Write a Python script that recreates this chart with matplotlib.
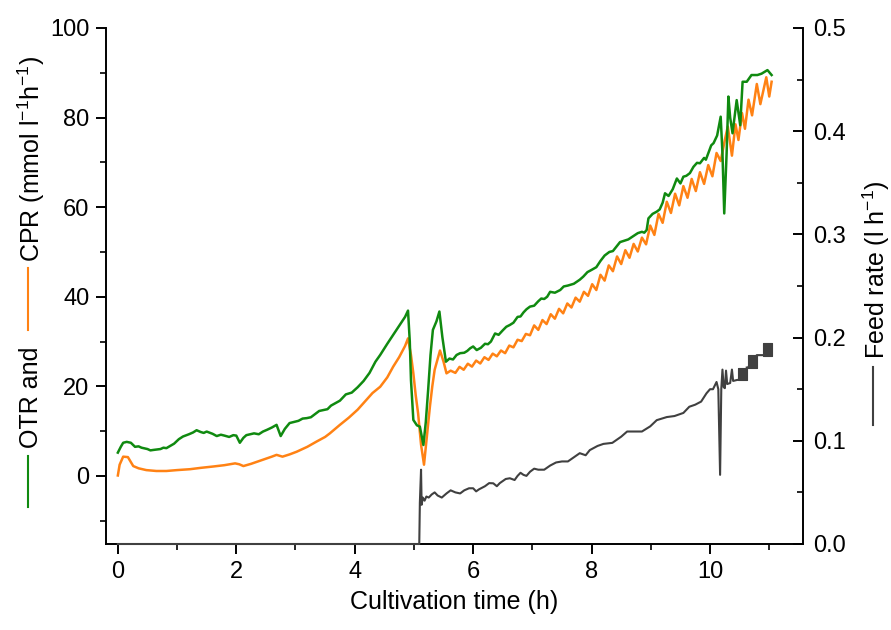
import matplotlib
matplotlib.use("Agg")
import matplotlib.pyplot as plt
import numpy as np
from matplotlib.lines import Line2D
from matplotlib.ticker import MultipleLocator

plt.rcParams['font.family'] = ['Liberation Sans', 'DejaVu Sans']
plt.rcParams['mathtext.fontset'] = 'custom'
plt.rcParams['mathtext.rm'] = 'Liberation Sans'
plt.rcParams['mathtext.it'] = 'Liberation Sans:italic'
plt.rcParams['mathtext.bf'] = 'Liberation Sans:bold'

# ---------------- data ----------------
otr_t = [0.0, 0.05, 0.09, 0.15, 0.22, 0.29, 0.4, 0.5, 0.6, 0.72, 0.82, 0.95, 1.1, 1.2, 1.27,
         1.4, 1.5, 1.6, 1.67, 1.8, 1.95, 2.0, 2.06, 2.12, 2.17, 2.3, 2.45, 2.6, 2.68, 2.72,
         2.75, 2.82, 2.9, 3.05, 3.19, 3.33, 3.47, 3.6, 3.75, 3.85, 3.95, 4.05, 4.15, 4.25,
         4.35, 4.43, 4.55, 4.65, 4.75, 4.85, 4.9, 4.93, 4.95, 4.99, 5.05, 5.1, 5.16, 5.2,
         5.24, 5.28, 5.32, 5.38, 5.43, 5.48, 5.54, 5.6, 5.72, 5.85, 5.95, 6.06, 6.2, 6.3,
         6.37, 6.5, 6.62, 6.75, 6.85, 6.96, 7.1, 7.2, 7.3, 7.47, 7.6, 7.8, 7.86, 8.0, 8.15,
         8.3, 8.42, 8.55, 8.7, 8.85, 8.93, 8.96, 9.1, 9.2, 9.24, 9.3, 9.44, 9.5, 9.6, 9.72,
         9.83, 9.9, 9.97, 10.06, 10.12, 10.18, 10.21, 10.24, 10.28, 10.31, 10.34, 10.38,
         10.45, 10.51, 10.55, 10.62, 10.7, 10.8, 10.87, 10.97, 11.04]
otr = [5.2, 6.5, 7.4, 7.6, 7.4, 6.5, 6.3, 6.0, 5.8, 6.0, 6.2, 7.2, 8.8, 9.3, 9.7,
       9.8, 9.9, 9.4, 8.9, 9.0, 9.1, 9.0, 7.4, 8.5, 9.1, 9.5, 9.9, 10.8, 11.4, 10.0,
       8.9, 10.5, 11.8, 12.3, 12.9, 13.8, 14.7, 15.7, 16.8, 18.2, 18.6, 19.8, 21.2, 23.0,
       25.5, 27.0, 29.5, 31.5, 33.5, 35.5, 36.9, 30.0, 21.4, 12.5, 11.3, 11.0, 6.9, 12.0,
       19.2, 27.0, 32.6, 34.5, 36.7, 31.0, 25.5, 26.2, 27.0, 27.5, 28.5, 28.1, 29.5, 30.0,
       31.8, 32.5, 33.7, 35.5, 36.5, 37.8, 39.0, 39.5, 41.1, 41.5, 42.5, 43.8, 44.5, 46.0, 48.0,
       50.0, 51.2, 52.5, 53.5, 54.5, 54.9, 57.5, 59.0, 61.0, 63.1, 62.5, 66.4, 65.3, 67.0, 69.0,
       69.8, 71.0, 72.0, 74.3, 76.0, 80.2, 72.0, 58.6, 72.0, 84.7, 80.0, 76.5,
       83.9, 78.3, 88.0, 88.0, 89.5, 89.5, 89.8, 90.6, 89.5]
# extra readings of the noisy OTR signal
otr_extra_t = [0.35, 0.55, 0.77, 1.03, 1.33, 1.45, 1.74, 1.88, 2.38, 2.52, 3.12, 3.26, 3.4,
               3.54, 3.68, 5.66, 5.78, 5.90, 6.0, 6.13, 6.25, 6.43, 6.56, 6.68, 6.8, 6.9, 7.03,
               7.15, 7.25, 7.38, 7.53, 7.7, 7.93, 8.08, 8.22, 8.36, 8.48, 8.62, 8.78, 8.89,
               9.03, 9.15, 9.37, 9.55, 9.66, 9.78, 9.93, 10.02]
otr_extra = [6.6, 5.7, 6.3, 8.2, 10.2, 9.6, 9.2, 8.7, 9.3, 10.3, 12.8, 13.1, 14.5,
             14.9, 16.3, 26.0, 27.4, 27.9, 28.9, 28.6, 29.4, 31.5, 33.3, 34.2, 35.6, 37.2, 38.0,
             39.6, 40.0, 40.9, 42.3, 42.9, 45.5, 46.6, 49.2, 50.2, 52.2, 52.8, 54.2, 54.3,
             58.5, 59.5, 64.0, 66.8, 67.6, 69.9, 70.6, 73.8]

cpr_t = [0.0, 0.03, 0.09, 0.17, 0.26, 0.35, 0.48, 0.65, 0.82, 1.0, 1.22, 1.4, 1.61, 1.8,
         1.98, 2.05, 2.12, 2.25, 2.45, 2.6, 2.68, 2.78, 2.9, 3.02, 3.2, 3.36, 3.5, 3.58,
         3.75, 3.9, 4.05, 4.2, 4.3, 4.43, 4.55, 4.65, 4.75, 4.85, 4.9, 4.95, 4.99, 5.03,
         5.07, 5.12, 5.17, 5.22, 5.27, 5.31, 5.35, 5.44, 5.5, 5.55, 5.62,
         5.70, 5.77, 5.84, 5.91, 5.98, 6.05, 6.12, 6.19, 6.26, 6.33, 6.40, 6.47, 6.54, 6.61,
         6.68, 6.75, 6.82, 6.89, 6.96, 7.03, 7.10, 7.17, 7.24, 7.31, 7.38, 7.45, 7.52, 7.59,
         7.66, 7.73, 7.80, 7.87, 7.94, 8.01, 8.08, 8.15, 8.22, 8.29, 8.36, 8.43, 8.50, 8.57,
         8.64, 8.71, 8.78, 8.85, 8.92, 8.99, 9.06, 9.13, 9.20, 9.27, 9.34, 9.41, 9.48, 9.55,
         9.62, 9.69, 9.76, 9.83, 9.90, 9.97, 10.04, 10.11, 10.18,
         10.25, 10.30, 10.37, 10.43, 10.48, 10.54, 10.59, 10.65, 10.71, 10.79, 10.85,
         10.95, 11.0, 11.04]
cpr = [0.1, 2.5, 4.3, 4.2, 2.2, 1.7, 1.3, 1.1, 1.1, 1.3, 1.5, 1.8, 2.1, 2.4,
       2.8, 2.6, 2.2, 2.7, 3.6, 4.3, 4.7, 4.3, 4.8, 5.4, 6.5, 7.7, 8.7, 9.5,
       11.4, 13.0, 14.8, 17.0, 18.5, 19.9, 22.0, 24.4, 26.5, 29.0, 30.7, 27.0, 22.9, 18.0,
       14.0, 7.0, 2.5, 9.0, 15.5, 20.0, 23.7, 28.0, 25.5, 22.9, 23.5,
       23.0, 24.35, 23.7, 25.05, 24.4, 25.75, 25.1, 26.5, 25.9, 27.3, 26.7, 28.0, 27.4, 29.1,
       28.7, 30.4, 30.1, 31.7, 31.4, 33.6, 32.6, 34.8, 33.9, 36.1, 35.1, 37.3, 36.3, 38.5,
       37.6, 39.8, 38.9, 41.1, 40.2, 42.8, 41.5, 44.9, 43.6, 47.0, 45.7, 49.0, 47.3, 50.4,
       48.7, 51.8, 50.1, 53.2, 51.7, 55.9, 53.8, 58.5, 56.5, 61.2, 58.7, 63.0, 60.4, 64.7,
       62.1, 66.3, 63.6, 67.8, 65.2, 69.4, 66.9, 72.1, 70.3,
       75.0, 78.0, 71.5, 78.5, 75.0, 81.0, 77.5, 84.0, 80.5, 87.5, 83.0,
       89.0, 84.7, 88.0]

feed_t = [0.0, 5.09, 5.10, 5.12, 5.13, 5.15, 5.18, 5.21, 5.25, 5.3, 5.4, 5.55, 5.7, 5.85,
          6.0, 6.1, 6.2, 6.34, 6.45, 6.62, 6.75, 6.85, 6.96, 7.1, 7.3, 7.5, 7.7, 7.97, 8.2,
          8.5, 8.75, 8.99, 9.27, 9.55, 9.75, 9.94, 10.05, 10.11, 10.14, 10.17, 10.19, 10.21,
          10.23, 10.25, 10.27, 10.29, 10.34, 10.37, 10.39, 10.46, 10.47]
feed = [0.0, 0.0, 0.040, 0.072, 0.038, 0.045, 0.042, 0.046, 0.045, 0.048, 0.047, 0.049, 0.050, 0.052,
        0.054, 0.053, 0.056, 0.0588, 0.059, 0.0637, 0.066, 0.067, 0.070, 0.072, 0.076, 0.080, 0.084, 0.091, 0.097,
        0.104, 0.109, 0.114, 0.123, 0.127, 0.135, 0.146, 0.150, 0.157, 0.150, 0.067, 0.150, 0.169,
        0.152, 0.151, 0.168, 0.155, 0.156, 0.169, 0.158, 0.159, 0.159]
# extra readings of the noisy feed signal
feed_extra_t = [5.35, 5.47, 5.62, 5.78, 5.93, 6.05, 6.27, 6.4, 6.55, 6.7, 6.8, 6.9, 7.03,
                7.2, 7.4, 7.6, 7.8, 7.9, 8.1, 8.35, 8.6, 8.85, 9.1, 9.4, 9.65, 9.85, 10.0]
feed_extra = [0.050, 0.045, 0.052, 0.049, 0.054, 0.051, 0.059, 0.056, 0.063, 0.062, 0.069, 0.066, 0.073,
              0.072, 0.079, 0.080, 0.088, 0.086, 0.095, 0.098, 0.109, 0.109, 0.120, 0.124, 0.133, 0.138, 0.150]
# end of run: feed pump toggling between two levels (filled blocks) and steps
block_start = [10.47, 10.64, 10.90]
block_end = [10.62, 10.79, 11.04]
block_lo = [0.159, 0.171, 0.182]
block_hi = [0.171, 0.183, 0.195]
step_t = [10.62, 10.64, 10.79, 10.90]
step_f = [0.171, 0.171, 0.183, 0.183]

x_ticks = [0, 2, 4, 6, 8, 10]
y_ticks = [0, 20, 40, 60, 80, 100]
y2_ticks = [0.0, 0.1, 0.2, 0.3, 0.4, 0.5]


def merged(t1, v1, t2, v2):
    t = np.array(t1 + t2)
    v = np.array(v1 + v2)
    o = np.argsort(t, kind='stable')
    return t[o], v[o]


otr_all_t, otr_all = merged(otr_t, otr, otr_extra_t, otr_extra)
feed_all_t, feed_all = merged(feed_t, feed, feed_extra_t, feed_extra)

GREEN = '#108a10'
ORANGE = '#ff8214'
GREY = '#404040'
FS = 17
FL = 18

W, H = 891, 630
fig = plt.figure(figsize=(W / 100, H / 100), dpi=100)
ax = fig.add_axes([106 / W, 1 - 544 / H, (803 - 106) / W, (544 - 28) / H])
ax2 = ax.twinx()

ax.plot(cpr_t, cpr, color=ORANGE, lw=1.8, zorder=2)
ax.plot(otr_all_t, otr_all, color=GREEN, lw=1.8, zorder=3)

ax2.plot(feed_all_t, feed_all, color=GREY, lw=1.5, clip_on=False, zorder=3)
ax2.plot(step_t, step_f, color=GREY, lw=1.5, zorder=3)
for s, e, lo, hi in zip(block_start, block_end, block_lo, block_hi):
    ax2.fill_between([s, e], [lo, lo], [hi, hi], color=GREY, lw=0.8, zorder=3)

ax.set_xlim(-0.2, 11.57)
ax.set_ylim(-15.2, 100)
ax2.set_ylim(0, 0.5)

ax.set_xticks(x_ticks)
ax.set_yticks(y_ticks)
ax2.set_yticks(y2_ticks)
ax2.set_yticklabels([f"{v:.1f}" for v in y2_ticks])
ax.xaxis.set_minor_locator(MultipleLocator(1))
ax.yaxis.set_minor_locator(MultipleLocator(10))
ax2.yaxis.set_minor_locator(MultipleLocator(0.05))

for a in (ax, ax2):
    a.spines['top'].set_visible(False)
    for s in a.spines.values():
        s.set_linewidth(1.4)
ax.tick_params(which='major', length=7, width=1.4, direction='out', labelsize=FS, pad=5)
ax.tick_params(which='minor', length=4, width=1.2, direction='out')
ax2.tick_params(which='major', length=7, width=1.4, direction='in', labelsize=FS, pad=7)
ax2.tick_params(which='minor', length=4, width=1.2, direction='in')
ax2.spines['bottom'].set_visible(False)
ax2.spines['left'].set_visible(False)
ax.spines['right'].set_visible(False)

ax.set_xlabel('Cultivation time (h)', fontsize=FL, labelpad=5)


def fx(px):
    return px / W


def fy(py):
    return 1 - py / H


# left composite y label
fig.add_artist(Line2D([fx(28), fx(28)], [fy(456), fy(507)], color=GREEN, lw=1.5))
fig.text(fx(31), fy(397), 'OTR and', rotation=90, ha='center', va='center', fontsize=FL)
fig.add_artist(Line2D([fx(28), fx(28)], [fy(268), fy(330)], color=ORANGE, lw=1.5))
fig.text(fx(31), fy(159), 'CPR (mmol l$^{-1}$h$^{-1}$)', rotation=90, ha='center',
         va='center', fontsize=FL)

# right composite y label
fig.add_artist(Line2D([fx(873), fx(873)], [fy(367), fy(425)], color=GREY, lw=1.5))
fig.text(fx(876), fy(270), 'Feed rate (l h$^{-1}$)', rotation=90, ha='center',
         va='center', fontsize=FL)

fig.savefig('out.png', dpi=100)
